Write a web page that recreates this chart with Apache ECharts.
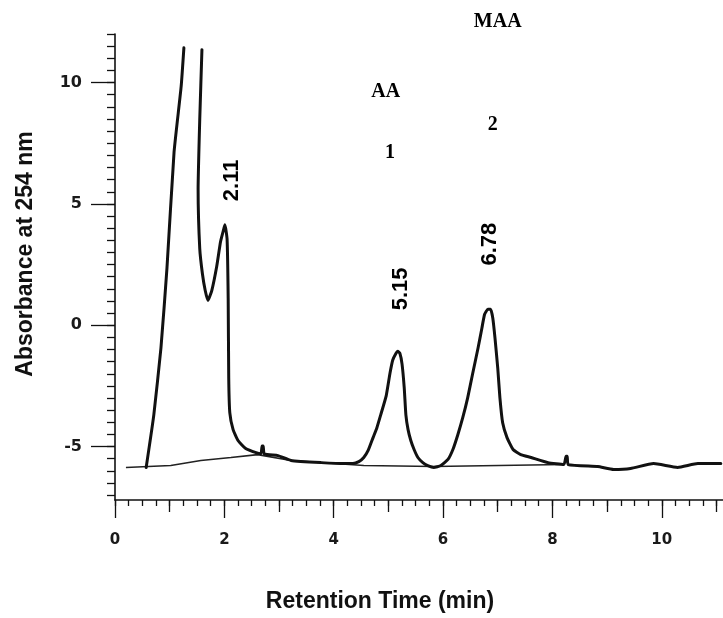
<!DOCTYPE html>
<html>
<head>
<meta charset="utf-8">
<script src="https://cdn.jsdelivr.net/npm/echarts@6/dist/echarts.min.js"></script>
<style>
  html, body { margin: 0; padding: 0; background: #ffffff; }
  #chart { width: 723px; height: 618px; }
</style>
</head>
<body>
<div id="chart"></div>
<script>
// ---- Data ----
// Detector trace (retention time in min, absorbance); '-' marks the off-scale gap of the solvent peak
const traceTime = [0.57, 0.71, 0.84, 0.95, 1.08, 1.21, 1.26, 1.42,
  1.59, 1.55, 1.52, 1.55, 1.60, 1.65, 1.70, 1.77, 1.86, 1.93, 1.99, 2.01, 2.05, 2.07, 2.08, 2.10, 2.16, 2.25, 2.39, 2.58,
  2.67, 2.69, 2.71, 2.73, 2.98, 3.22, 3.77,
  4.22, 4.35, 4.46, 4.55, 4.63, 4.72, 4.79, 4.86, 4.96, 5.03, 5.08, 5.14, 5.17, 5.21, 5.25, 5.29, 5.32, 5.36, 5.41, 5.47,
  5.54, 5.63, 5.72, 5.83,
  5.96, 6.09, 6.18, 6.27, 6.36, 6.45, 6.54, 6.64, 6.71, 6.76, 6.82, 6.87, 6.91, 6.95, 7.00, 7.04, 7.09, 7.17, 7.28, 7.42,
  7.61, 7.92, 8.21, 8.25, 8.27, 8.29, 8.83, 9.12, 9.43, 9.85, 10.29, 10.66, 11.08];
const traceAbs = [-5.86, -3.69, -0.94, 2.34, 7.13, 9.84, 11.43, '-',
  11.35, 8.48, 5.61, 3.16, 2.10, 1.43, 1.02, 1.43, 2.42, 3.44, 3.97, 4.14, 3.55, 1.11, -2.17, -3.61, -4.30, -4.75, -5.08, -5.25,
  -5.29, -4.98, -4.98, -5.30, -5.37, -5.57, -5.66,
  -5.70, -5.70, -5.62, -5.45, -5.16, -4.63, -4.22, -3.69, -2.91, -1.97, -1.43, -1.15, -1.07, -1.15, -1.60, -2.58, -3.69, -4.30, -4.75, -5.12,
  -5.45, -5.66, -5.78, -5.86,
  -5.78, -5.53, -5.12, -4.51, -3.81, -2.99, -2.01, -0.94, -0.12, 0.45, 0.66, 0.66, 0.29, -0.53, -1.76, -2.99, -4.02, -4.63, -5.12, -5.33,
  -5.45, -5.66, -5.74, -5.40, -5.40, -5.74, -5.82, -5.94, -5.90, -5.70, -5.86, -5.70, -5.70];
// Drawn baseline under the peaks
const baseTime = [0.20, 1.02, 1.57, 2.12, 2.61, 3.22, 4.55, 5.83, 8.21];
const baseAbs = [-5.86, -5.78, -5.57, -5.45, -5.33, -5.57, -5.78, -5.82, -5.74];
// Retention-time annotations of the peaks
const peakTimes = ['2.11', '5.15', '6.78'];
const peakLabelX = [2.14, 5.23, 6.86];
const peakLabelY = [5.97, 1.50, 3.34];
// Compound annotations
const compoundNames = ['AA', '1', 'MAA', '2'];
const compoundX = [4.95, 5.03, 7.00, 6.91];
const compoundY = [9.62, 7.12, 12.49, 8.27];
// Axis ticks
const xLabelValues = [0, 2, 4, 6, 8, 10];
const xMidTickValues = [1, 3, 5, 7, 9, 11];
const yLabelValues = [-5, 0, 5, 10];
const xRange = [0, 11.12];
const yRange = [-7.2, 12];

// ---- build ----
const xMinorTicks = [];
for (let i = 0; i <= 44; i++) xMinorTicks.push(i * 0.25);
const yMinorTicks = [];
for (let i = -14; i <= 24; i++) yMinorTicks.push(i * 0.5);

const zip = (a, b) => a.map((v, i) => [v, b[i]]);
const ink = '#111111';

const chart = echarts.init(document.getElementById('chart'), null, { renderer: 'canvas' });

function xAxisLayer(ticks, len, main) {
  return {
    type: 'value', position: 'bottom', offset: 0,
    min: xRange[0], max: xRange[1],
    splitLine: { show: false },
    axisLine: { show: main, onZero: false, lineStyle: { color: ink, width: 1.6 } },
    axisTick: { show: true, inside: false, length: len, customValues: ticks, lineStyle: { color: ink, width: 1.3 } },
    axisLabel: main ? {
      show: true, customValues: xLabelValues, margin: 33,
      fontFamily: 'DejaVu Sans', fontWeight: 'bold', fontSize: 15, color: '#1a1a1a'
    } : { show: false },
    name: main ? 'Retention Time (min)' : '',
    nameLocation: 'middle', nameGap: 90,
    nameTextStyle: { fontFamily: 'Liberation Sans', fontWeight: 'bold', fontSize: 23, color: '#111', padding: [0, 78, 0, 0] }
  };
}
function yAxisLayer(ticks, len, main) {
  return {
    type: 'value', position: 'left', offset: 0,
    min: yRange[0], max: yRange[1],
    splitLine: { show: false },
    axisLine: { show: main, onZero: false, lineStyle: { color: ink, width: 1.6 } },
    axisTick: { show: true, inside: false, length: len, customValues: ticks, lineStyle: { color: ink, width: 1.3 } },
    axisLabel: main ? {
      show: true, customValues: yLabelValues, margin: 33,
      fontFamily: 'DejaVu Sans', fontWeight: 'bold', fontSize: 16, color: '#1a1a1a'
    } : { show: false },
    name: main ? 'Absorbance at 254 nm' : '',
    nameLocation: 'middle', nameGap: 78, nameRotate: 90,
    nameTextStyle: { fontFamily: 'Liberation Sans', fontWeight: 'bold', fontSize: 23, color: '#111', padding: [0, 0, 0, 26] }
  };
}

const option = {
  backgroundColor: '#ffffff',
  animation: false,
  grid: { left: 115, right: 0, top: 34, bottom: 116, containLabel: false },
  xAxis: [
    xAxisLayer(xMinorTicks, 6, true),
    xAxisLayer(xMidTickValues, 12, false),
    xAxisLayer(xLabelValues, 18, false)
  ],
  yAxis: [
    yAxisLayer(yMinorTicks, 8, true),
    yAxisLayer(yLabelValues, 24, false)
  ],
  series: [
    {
      name: 'Baseline', type: 'line', showSymbol: false, silent: true,
      data: zip(baseTime, baseAbs),
      lineStyle: { color: '#222', width: 1.6 }
    },
    {
      name: 'Trace', type: 'line', showSymbol: false, connectNulls: false, silent: true,
      smooth: 0.15,
      data: zip(traceTime, traceAbs),
      lineStyle: { color: ink, width: 3, join: 'round', cap: 'round' }
    },
    {
      name: 'Retention times', type: 'scatter', symbolSize: 0, clip: false, silent: true,
      itemStyle: { opacity: 1, color: '#000' },
      data: peakTimes.map((t, i) => ({ value: [peakLabelX[i], peakLabelY[i]], name: t })),
      label: {
        show: true, position: 'inside', rotate: 90, formatter: p => p.name,
        fontFamily: 'Liberation Sans', fontWeight: 'bold', fontSize: 22, color: '#000',
        textBorderWidth: 0, opacity: 1
      }
    },
    {
      name: 'Compounds', type: 'scatter', symbolSize: 0, clip: false, silent: true,
      itemStyle: { opacity: 1, color: '#000' },
      data: compoundNames.map((t, i) => ({ value: [compoundX[i], compoundY[i]], name: t })),
      label: {
        show: true, position: 'inside', formatter: p => p.name,
        fontFamily: 'Liberation Serif', fontWeight: 'bold', fontSize: 20, color: '#000',
        textBorderWidth: 0, opacity: 1
      }
    }
  ]
};
chart.setOption(option);
</script>
</body>
</html>
